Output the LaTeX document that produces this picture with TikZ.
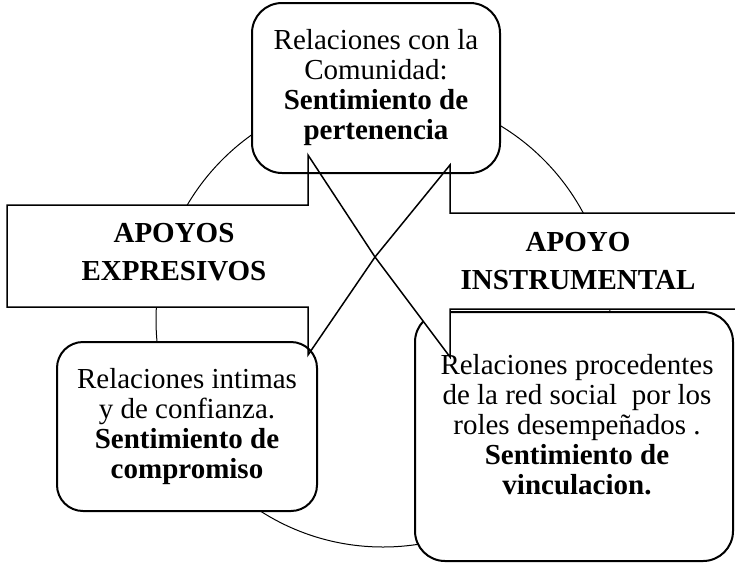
\documentclass[tikz,border=0pt]{standalone}
\usepackage{fontspec}
\setmainfont{Liberation Serif}
\usepackage{tikz}
\usetikzlibrary{positioning}

\begin{document}
\begin{tikzpicture}[x=1pt,y=-1pt,line join=miter]
    \tikzstyle{bubble}=[draw=black,fill=white,line width=2pt,rounded corners=30pt,align=center,font=\fontsize{29}{30}\selectfont]
    \tikzstyle{bubbletext}=[align=center,font=\fontsize{29}{30}\selectfont]
    \tikzstyle{bigarrow}=[draw=black,line width=1.5pt]
    \tikzstyle{heading}=[align=center,font=\fontsize{29}{38}\selectfont\bfseries]
    \useasboundingbox (0,0) rectangle (735,563);
    % corner points of the two block arrows
    \coordinate (tip) at (375,257);
    \coordinate (l1) at (7,205);   \coordinate (l2) at (308,205);
    \coordinate (l3) at (308,155); \coordinate (l4) at (308,355);
    \coordinate (l5) at (308,307); \coordinate (l6) at (7,307);
    \coordinate (r1) at (735,213); \coordinate (r2) at (450,213);
    \coordinate (r3) at (450,165); \coordinate (r4) at (450,357);
    \coordinate (r5) at (450,309); \coordinate (r6) at (735,309);
    \draw[line width=1pt] (383,320) circle (227pt);
    % box under the right arrow
    \draw[bubble] (415,312) rectangle (733,561);
    \node[bubbletext] (red) at (577,425)
        {Relaciones procedentes\\de la red social~ por los\\roles desempeñados .\\\textbf{Sentimiento de}\\\textbf{vinculacion.}};
    \fill[white] (l1) -- (l2) -- (l3) -- (tip) -- (l4) -- (l5) -- (l6) -- cycle;
    \fill[white] (r1) -- (r2) -- (r3) -- (tip) -- (r4) -- (r5) -- (r6) -- cycle;
    \node[bubble,minimum width=248,minimum height=170] (comunidad) at (376,88)
        {Relaciones con la\\Comunidad:\\\textbf{Sentimiento de}\\\textbf{pertenencia}};
    \node[bubble,minimum width=260,minimum height=169,rounded corners=26pt] (intimas) at (187,426.5)
        {Relaciones intimas\\y de confianza.\\\textbf{Sentimiento de}\\\textbf{compromiso}};
    \draw[bigarrow] (l1) -- (l2) -- (l3) -- (tip) -- (l4) -- (l5) -- (l6) -- cycle;
    \draw[bigarrow] (r1) -- (r2) -- (r3) -- (tip) -- (r4) -- (r5) -- (r6);
    \node[heading] (expresivos) at (174,252) {APOYOS\\EXPRESIVOS};
    \node[heading] (instrumental) at (578,261) {APOYO\\INSTRUMENTAL};
\end{tikzpicture}
\end{document}
